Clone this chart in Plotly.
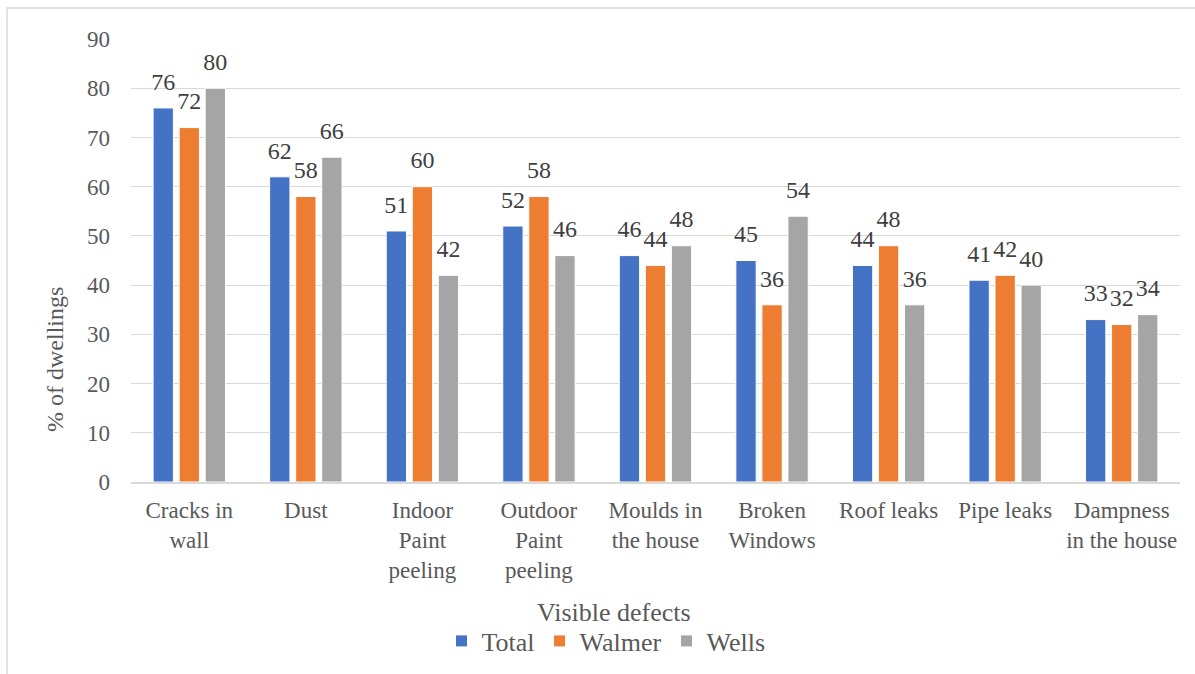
import plotly.graph_objects as go

categories = ["Cracks in<br>wall", "Dust", "Indoor<br>Paint<br>peeling", "Outdoor<br>Paint<br>peeling",
              "Moulds in<br>the house", "Broken<br>Windows", "Roof leaks", "Pipe leaks",
              "Dampness<br>in the house"]
total = [76, 62, 51, 52, 46, 45, 44, 41, 33]
walmer = [72, 58, 60, 58, 44, 36, 48, 42, 32]
wells = [80, 66, 42, 46, 48, 54, 36, 40, 34]

series = [("Total", total, "#4472C4"), ("Walmer", walmer, "#ED7D31"), ("Wells", wells, "#A5A5A5")]

SERIF = "Liberation Serif"
GAP = 0.33

fig = go.Figure()
for name, vals, color in series:
    fig.add_trace(go.Bar(
        name=name, x=categories, y=vals, offsetgroup=name,
        marker=dict(color=color, line=dict(color="white", width=1)),
    ))
# value labels, grouped the same way as the bars and lifted a little above each bar top
for name, vals, color in series:
    fig.add_trace(go.Scatter(
        x=categories, y=vals, offsetgroup=name, showlegend=False, hoverinfo="skip",
        mode="markers+text", text=[str(v) for v in vals], textposition="top center",
        marker=dict(size=18, color="rgba(0,0,0,0)"),
        textfont=dict(family=SERIF, size=24, color="#404040"),
        cliponaxis=False,
    ))

W, H = 1195, 674
L, R, T, B = 131, 15, 39, 192
pw, ph = W - L - R, H - T - B

fig.update_layout(
    width=W, height=H,
    margin=dict(l=L, r=R, t=T, b=B, autoexpand=False),
    paper_bgcolor="white", plot_bgcolor="white",
    barmode="group", bargap=GAP, bargroupgap=0.22,
    scattermode="group", scattergap=GAP,
    showlegend=True,
    legend=dict(orientation="h", x=(606 - L) / pw, xanchor="center",
                y=-(641 - T - ph) / ph, yanchor="middle",
                font=dict(family=SERIF, size=26, color="#595959")),
    xaxis=dict(showgrid=False, showline=True, linecolor="#D9D9D9", linewidth=1.5,
               ticks="", ticklabelstandoff=7,
               tickfont=dict(family=SERIF, size=23, color="#595959")),
    yaxis=dict(range=[0, 90], dtick=10, showgrid=True, gridcolor="#D9D9D9", gridwidth=1.3,
               zeroline=False, showline=False, ticks="",
               tickfont=dict(family=SERIF, size=23, color="#595959"),
               ticklabelstandoff=20),
    annotations=[
        dict(text="Visible defects", xref="paper", yref="paper",
             x=(614 - L) / pw, y=-(612 - T - ph) / ph, xanchor="center", yanchor="middle",
             showarrow=False, font=dict(family=SERIF, size=26, color="#595959")),
        dict(text="% of dwellings", xref="paper", yref="paper", textangle=-90,
             x=(55 - L) / pw, y=(482 - 360) / ph, xanchor="center", yanchor="middle",
             showarrow=False, font=dict(family=SERIF, size=24, color="#595959")),
    ],
    shapes=[dict(type="rect", xref="paper", yref="paper",
                 x0=-(L - 7) / pw, x1=1.2, y0=-0.6, y1=1 + (T - 8) / ph,
                 line=dict(color="#D9D9D9", width=1.5), layer="below")],
)

fig.write_html("out.html")
